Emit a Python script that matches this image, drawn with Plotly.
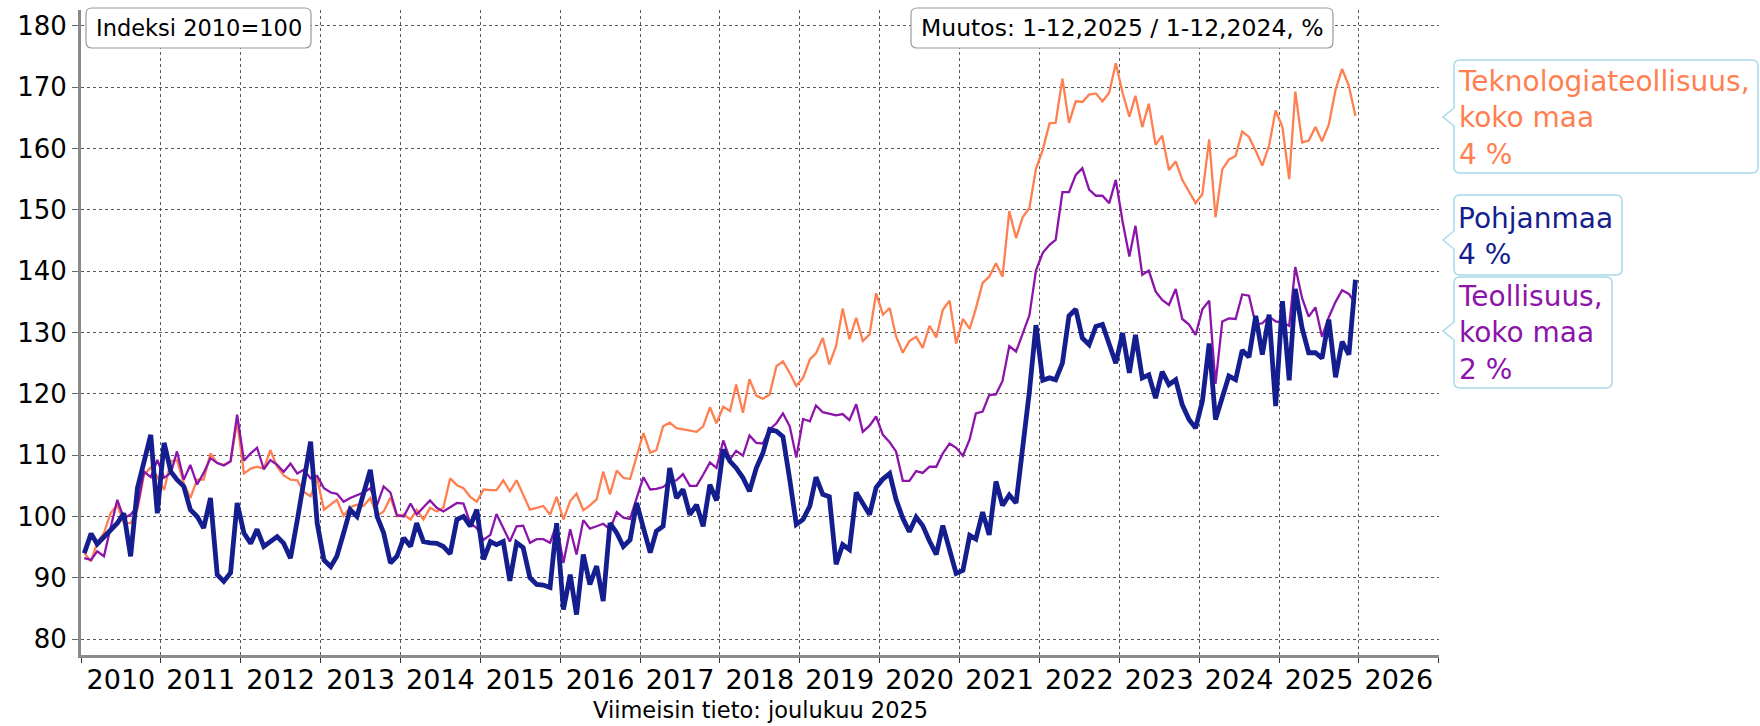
import plotly.graph_objects as go

# ---------------- data (monthly, Jan 2010 .. Dec 2025) ----------------
pohjanmaa = [
    94, 97.2, 95.5, 96.7, 97.8, 98.9, 100.5, 93.5, 104.6, 109, 113.3, 100.5,
    112, 107.3, 106, 104.9, 101.1, 100, 98.1, 103, 90.5, 89.4, 90.8, 102.2,
    97.3, 95.6, 97.9, 95.1, 95.9, 96.7, 95.6, 93.2, 99.4, 105.4, 112.2, 98.9,
    92.9, 91.8, 93.5, 97.3, 101.1, 100, 103.8, 107.6, 100, 97.3, 92.4, 93.5,
    96.5, 95.1, 98.9, 95.9, 95.7, 95.6, 95.1, 93.9, 99.5, 100, 98.4, 101.1,
    93, 95.9, 95.4, 95.9, 89.5, 95.7, 94.9, 90, 88.9, 88.8, 88.4, 98.9,
    84.8, 90.5, 84, 93.8, 88.9, 91.9, 86.2, 98.9, 97.3, 95.1, 96.2, 102.2,
    98.1, 94.1, 97.6, 98.4, 107.9, 103, 104.4, 100.3, 101.9, 98.4, 105.2, 102.6,
    110.9, 109, 107.9, 106.3, 104.1, 107.9, 110.3, 114.2, 113.9, 113, 106, 98.7,
    99.5, 101.7, 106.4, 103.6, 103.2, 92.2, 95.4, 94.6, 103.9, 102.1, 100.3, 104.7,
    106.1, 107, 102.8, 99.7, 97.5, 99.9, 98.5, 96, 93.8, 98.5, 94.6, 90.7,
    91.2, 96.9, 96.3, 100.7, 97, 105.7, 101.8, 103.5, 102.2, 110.9, 120.4, 131.2,
    122.2, 122.6, 122.3, 125, 132.7, 133.8, 129.1, 128, 131, 131.3, 128, 125,
    129.9, 123.4, 129.6, 122.6, 123.1, 119.3, 123.6, 121.5, 122.3, 118.2, 115.8, 114.4,
    118.8, 128.2, 115.8, 119.3, 122.9, 122.3, 127.1, 126, 132.7, 126.4, 132.9, 118,
    135.1, 122.2, 137.1, 130.7, 126.7, 126.7, 125.8, 132.1, 122.7, 128.5, 126.4, 138.6,
]

teknologia = [
    94, 92.7, 95.7, 97.3, 100.5, 101.9, 98.9, 98.9, 101.1, 106.8, 108, 106.5,
    104.3, 109, 109.2, 105.4, 103, 106, 106, 110.3, 108.7, 108.4, 109, 115.5,
    107, 107.8, 108.1, 107.8, 110.8, 108.1, 106.7, 106, 105.9, 104, 103.3, 106.2,
    101.1, 101.9, 102.7, 100.1, 101.5, 101.9, 101.7, 103, 100.1, 100.8, 103.1, 100,
    100.3, 99.5, 101.1, 99.5, 101.4, 100.8, 101.4, 106.2, 105.1, 104.6, 103.2, 102.4,
    104.4, 104.3, 104.3, 105.9, 104.1, 105.9, 103.5, 101.1, 101.4, 101.7, 100.3, 103.2,
    99.5, 102.5, 103.7, 101, 101.8, 102.8, 107.3, 103.6, 107.5, 106.3, 106.1, 109.8,
    113.6, 110.4, 110.8, 114.7, 115.3, 114.4, 114.2, 114, 113.8, 114.7, 117.8, 115.2,
    117.9, 117.2, 121.5, 116.9, 122.4, 119.7, 119.2, 119.9, 124.5, 125.3, 123.4, 121.3,
    122.6, 125.6, 126.6, 129.1, 124.8, 127.8, 133.9, 128.9, 132.4, 128.6, 129.7, 136.4,
    132.9, 134, 129.4, 126.7, 128.6, 129.3, 127.5, 131.1, 129.2, 133.7, 135.2, 128.2,
    132.2, 130.6, 133.9, 138.1, 139.1, 141.3, 139.1, 149.8, 145.4, 148.8, 150.3, 156.7,
    159.8, 164.1, 164.2, 171.4, 164.2, 167.7, 167.6, 168.8, 169, 167.7, 169.1, 173.9,
    169.1, 165.2, 168.6, 163.5, 167.3, 160.6, 162.1, 156.5, 157.9, 154.9, 153, 151.1,
    152.6, 161.5, 148.8, 156.6, 158.2, 158.8, 162.8, 161.9, 159.6, 157.2, 160.5, 166.2,
    163.5, 155, 169.3, 161, 161.3, 163.5, 161.2, 163.9, 169.6, 173, 170.2, 165.3,
]

teollisuus = [
    93.2, 92.9, 94.3, 93.5, 98.1, 102.7, 99.7, 100.3, 101.6, 107.3, 106.4, 109.2,
    106.3, 107.1, 110.6, 106, 108.4, 105.2, 107.1, 109.5, 108.7, 108.3, 109, 116.6,
    109.1, 110.3, 111.2, 107.7, 109.2, 108.4, 107.3, 108.6, 107, 107.6, 106.2, 106.6,
    104.6, 103.9, 103.7, 102.4, 103, 103.5, 103.9, 104.6, 101.9, 104.9, 103.9, 100.2,
    100, 102.1, 100.3, 101.5, 102.6, 101.4, 100.8, 101.5, 102.2, 102.1, 98.9, 98.1,
    96.2, 97, 100.4, 98.1, 95.9, 98.4, 98.5, 95.7, 96.3, 96.3, 95.7, 98.8,
    92.4, 97.9, 93.8, 99.4, 98, 98.4, 98.8, 97.9, 100.7, 99.8, 99.6, 103,
    106.4, 104.4, 104.5, 104.8, 105.7, 105.9, 106.9, 105, 105, 106.8, 108.8, 107.9,
    112.4, 109.3, 110.7, 109.9, 113.2, 112, 111.9, 114.2, 115.2, 116.8, 114.7, 109.6,
    115.9, 115.5, 118.1, 117, 116.8, 116.5, 116.7, 115.7, 118.3, 113.8, 114.8, 116.3,
    113.3, 112.1, 110.6, 105.8, 105.8, 107.4, 107.1, 108.1, 108.1, 110.3, 111.9, 111.2,
    109.9, 112.6, 116.8, 117.1, 119.8, 119.9, 122.1, 127.8, 126.9, 129.7, 132.8, 140.1,
    143, 144.3, 145.1, 152.9, 152.9, 155.7, 156.8, 153.3, 152.3, 152.3, 151.1, 154.9,
    148.1, 142.4, 147.4, 139.4, 140.1, 136.7, 135.3, 134.5, 137.1, 132.2, 131.3, 129.6,
    133.8, 135.2, 121.6, 131.8, 132.3, 132.2, 136.2, 136, 131.3, 131.5, 132.6, 131.8,
    131.6, 131.1, 140.7, 135.6, 132.6, 134.1, 129.3, 132.5, 135, 136.9, 136.3, 134.7,
]

series_names = ["Teknologiateollisuus, koko maa", "Teollisuus, koko maa", "Pohjanmaa"]
changes = ["4 %", "2 %", "4 %"]
y_ticks = [80, 90, 100, 110, 120, 130, 140, 150, 160, 170, 180]

# ---------------- styling ----------------
FONT = "DejaVu Sans"
C_ORANGE = "#FF7F50"
C_PURPLE = "#8C14AA"
C_NAVY = "#151E8E"
GRID = "#5a5a5a"
AXIS = "#8a8a8a"

START_YEAR = 2010
dates = [f"{START_YEAR + i // 12}-{i % 12 + 1:02d}-16" for i in range(len(pohjanmaa))]

W, H = 1760, 726
L, R, T, B = 81, 321, 10, 71
PW, PH = W - L - R, H - T - B


def px(xp):
    return (xp - L) / PW


def py(yp):
    return (H - B - yp) / PH


def box_path(x0, y0, x1, y1, r=6, notch=None):
    def P(x, y):
        return f"{px(x):.5f},{py(y):.5f}"
    s = f"M {P(x0 + r, y0)} L {P(x1 - r, y0)} Q {P(x1, y0)} {P(x1, y0 + r)} "
    s += f"L {P(x1, y1 - r)} Q {P(x1, y1)} {P(x1 - r, y1)} "
    s += f"L {P(x0 + r, y1)} Q {P(x0, y1)} {P(x0, y1 - r)} "
    if notch:
        tx, ty, hh = notch
        s += f"L {P(x0, ty + hh)} L {P(tx, ty)} L {P(x0, ty - hh)} "
    s += f"L {P(x0, y0 + r)} Q {P(x0, y0)} {P(x0 + r, y0)} Z"
    return s


fig = go.Figure()
fig.add_trace(go.Scatter(x=dates, y=teknologia, mode="lines", name=series_names[0],
                         line=dict(color=C_ORANGE, width=2.3)))
fig.add_trace(go.Scatter(x=dates, y=teollisuus, mode="lines", name=series_names[1],
                         line=dict(color=C_PURPLE, width=2.3)))
fig.add_trace(go.Scatter(x=dates, y=pohjanmaa, mode="lines", name=series_names[2],
                         line=dict(color=C_NAVY, width=4.8)))

shapes = []
shapes.append(dict(type="path", xref="paper", yref="paper", path=box_path(86, 8, 311, 48),
                   line=dict(color="#9a9a9a", width=1.2), fillcolor="white", layer="above"))
shapes.append(dict(type="path", xref="paper", yref="paper", path=box_path(911, 8, 1333, 48),
                   line=dict(color="#9a9a9a", width=1.2), fillcolor="white", layer="above"))
CB = "#A9D9E8"
shapes.append(dict(type="path", xref="paper", yref="paper",
                   path=box_path(1454, 60, 1758, 173, notch=(1443, 117, 9)),
                   line=dict(color=CB, width=1.5), fillcolor="white", layer="above"))
shapes.append(dict(type="path", xref="paper", yref="paper",
                   path=box_path(1454, 195, 1622, 275, notch=(1443, 240, 9)),
                   line=dict(color=CB, width=1.5), fillcolor="white", layer="above"))
shapes.append(dict(type="path", xref="paper", yref="paper",
                   path=box_path(1454, 277, 1612, 388, notch=(1443, 331, 9)),
                   line=dict(color=CB, width=1.5), fillcolor="white", layer="above"))

annotations = [
    dict(text="Indeksi 2010=100", x=px(198.5), y=py(28), xref="paper", yref="paper",
         xanchor="center", yanchor="middle",
         showarrow=False, font=dict(size=22.5, color="black", family=FONT)),
    dict(text="Muutos: 1-12,2025 / 1-12,2024, %", x=px(1122), y=py(28), xref="paper", yref="paper",
         xanchor="center", yanchor="middle",
         showarrow=False, font=dict(size=23.5, color="black", family=FONT)),
    dict(text="Teknologiateollisuus,<br>koko maa<br>" + changes[0], x=px(1456), y=py(118),
         xref="paper", yref="paper", xanchor="left", yanchor="middle", align="left",
         showarrow=False, font=dict(size=28, color=C_ORANGE, family=FONT)),
    dict(text="Pohjanmaa<br>" + changes[2], x=px(1456), y=py(236),
         xref="paper", yref="paper", xanchor="left", yanchor="middle", align="left",
         showarrow=False, font=dict(size=28, color=C_NAVY, family=FONT)),
    dict(text="Teollisuus,<br>koko maa<br>" + changes[1], x=px(1456), y=py(333),
         xref="paper", yref="paper", xanchor="left", yanchor="middle", align="left",
         showarrow=False, font=dict(size=28, color=C_PURPLE, family=FONT)),
    dict(text="Viimeisin tieto: joulukuu 2025", x=0.5, y=py(710), xref="paper", yref="paper",
         xanchor="center", yanchor="middle",
         showarrow=False, font=dict(size=22.5, color="black", family=FONT)),
]

fig.update_layout(
    width=W, height=H,
    margin=dict(l=L, r=R, t=T, b=B, autoexpand=False),
    paper_bgcolor="white", plot_bgcolor="white",
    showlegend=False,
    font=dict(family=FONT, color="black"),
    shapes=shapes,
    annotations=annotations,
    xaxis=dict(
        type="date",
        range=["2010-01-01", "2027-01-02"],
        dtick="M12", tick0="2010-01-01",
        tickformat="%Y", ticklabelmode="period",
        showgrid=True, gridcolor=GRID, griddash="dot", gridwidth=1,
        showline=True, linecolor=AXIS, linewidth=3,
        ticks="outside", ticklen=5, tickcolor="#333", tickwidth=1,
        ticklabelstandoff=-6,
        tickfont=dict(size=27, family=FONT, color="black"),
        zeroline=False,
    ),
    yaxis=dict(
        range=[77.4, 182.6],
        tickvals=y_ticks,
        showgrid=True, gridcolor=GRID, griddash="dot", gridwidth=1,
        showline=True, linecolor=AXIS, linewidth=3,
        ticks="outside", ticklen=6, tickcolor="#666", tickwidth=1,
        tickfont=dict(size=26, family=FONT, color="black"),
        zeroline=False,
    ),
)

fig.write_html(
    "out.html",
    config={"displayModeBar": False},
    post_script="document.body.style.margin='0px';document.body.style.padding='0px';",
)
